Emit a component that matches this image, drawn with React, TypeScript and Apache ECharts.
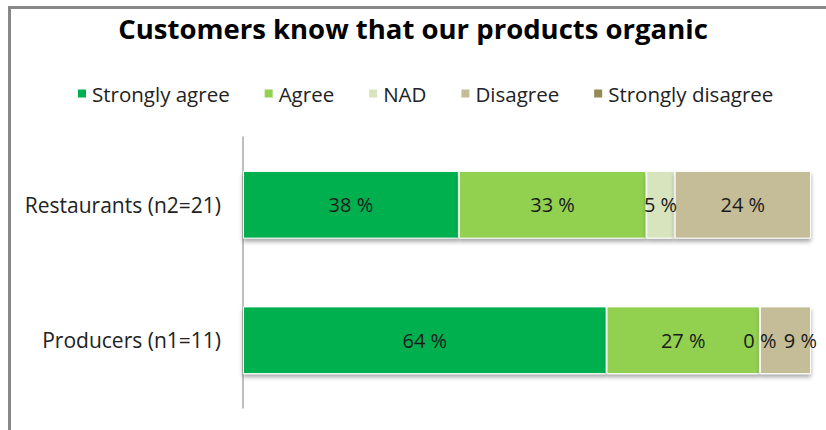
import React, { useEffect, useRef } from "react";
import * as echarts from "echarts";

const categories = ["Producers (n1=11)", "Restaurants (n2=21)"];
const seriesNames = ["Strongly agree", "Agree", "NAD", "Disagree", "Strongly disagree"];
const stronglyAgree = [64, 38];
const agree = [27, 33];
const nad = [0, 5];
const disagree = [9, 24];
const stronglyDisagree = [0, 0];
const colors = ["#00B050", "#92D050", "#D7E4BD", "#C4BD97", "#948A54"];

export default function App() {
  const ref = useRef<HTMLDivElement>(null);
  useEffect(() => {
    document.body.style.margin = "0";
    const chart = echarts.init(ref.current!, null, { renderer: "svg" });
    const values = [stronglyAgree, agree, nad, disagree, stronglyDisagree];
    const font = "'Open Sans', sans-serif";
    chart.setOption({
      animation: false,
      backgroundColor: "#ffffff",
      title: {
        text: "Customers know that our products organic",
        left: "center",
        top: 9,
        textStyle: { fontFamily: font, fontSize: 27.5, fontWeight: "bold", color: "#000" },
      },
      legend: {
        top: 78,
        left: 71,
        itemWidth: 10,
        itemHeight: 10,
        itemGap: 33,
        icon: "rect",
        textStyle: { fontFamily: font, fontSize: 20.5, color: "#222" },
        data: seriesNames,
      },
      grid: { left: 243, right: 15, top: 137, bottom: 22 },
      xAxis: {
        type: "value",
        min: 0,
        max: 100,
        show: false,
      },
      yAxis: {
        type: "category",
        data: categories,
        axisLine: { show: true, lineStyle: { color: "#AAAAAA", width: 1.5 } },
        axisTick: { show: false },
        axisLabel: { fontFamily: font, fontSize: 21, color: "#222", margin: 22 },
      },
      graphic: [
        { type: "line", shape: { x1: 9.5, y1: 7, x2: 9.5, y2: 430 }, style: { stroke: "#888", lineWidth: 3 } },
        { type: "line", shape: { x1: 8, y1: 7.5, x2: 826, y2: 7.5 }, style: { stroke: "#888", lineWidth: 3 } },
      ],
      series: seriesNames.map((name, i) => ({
        name,
        type: "bar",
        stack: "total",
        barWidth: "50%",
        itemStyle: {
          color: colors[i],
          borderColor: "#ffffff",
          borderWidth: 1,
          shadowColor: "rgba(0,0,0,0.35)",
          shadowBlur: 4,
          shadowOffsetY: 3,
        },
        label: {
          show: i < 4,
          position: "inside",
          formatter: (p: any) => `${p.value} %`,
          fontFamily: font,
          fontSize: 20,
          color: "#1a1a1a",
        },
        data: values[i].map((v, j) =>
          i === 3 && j === 0 ? { value: v, label: { offset: [15, 0] } } : v
        ),
      })),
    });
    return () => chart.dispose();
  }, []);
  return <div ref={ref} style={{ width: 826, height: 430 }} />;
}
